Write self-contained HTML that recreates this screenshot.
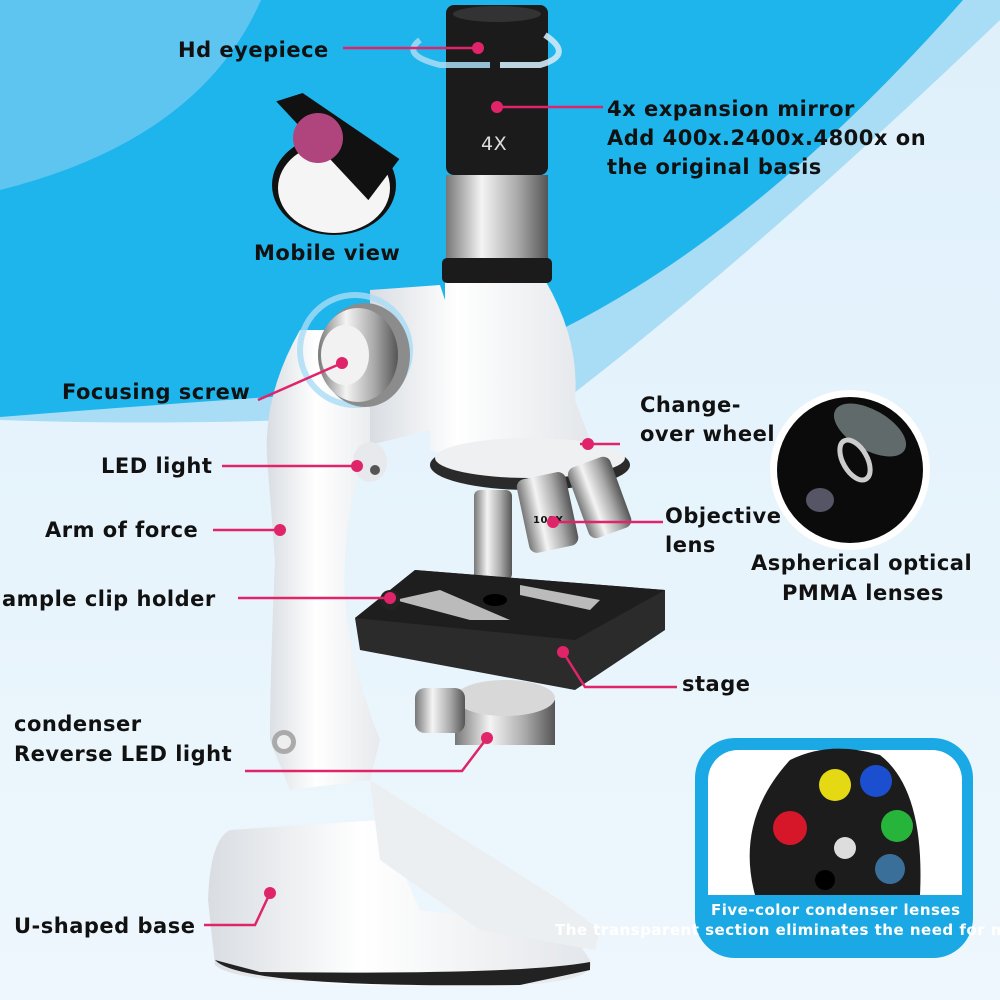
<!DOCTYPE html>
<html><head><meta charset="utf-8"><style>
html,body{margin:0;padding:0;width:1000px;height:1000px;overflow:hidden;background:#e6f3fc}
svg{display:block}
text{font-family:"DejaVu Sans","Liberation Sans",sans-serif;font-weight:bold;fill:#111;font-size:21px;letter-spacing:0.5px}
</style></head><body>
<svg width="1000" height="1000" viewBox="0 0 1000 1000" xmlns="http://www.w3.org/2000/svg">
<defs>
<linearGradient id="bg" x1="0" y1="0" x2="0" y2="1"><stop offset="0" stop-color="#dff0fb"/><stop offset="1" stop-color="#eef7fd"/></linearGradient>
<linearGradient id="metal" x1="0" y1="0" x2="1" y2="0"><stop offset="0" stop-color="#777"/><stop offset="0.35" stop-color="#f4f4f4"/><stop offset="0.7" stop-color="#aaa"/><stop offset="1" stop-color="#555"/></linearGradient>
<linearGradient id="white" x1="0" y1="0" x2="1" y2="0"><stop offset="0" stop-color="#d9dde2"/><stop offset="0.4" stop-color="#ffffff"/><stop offset="1" stop-color="#e3e6ea"/></linearGradient>
</defs>
<rect width="1000" height="1000" fill="url(#bg)"/>
<!-- light outer band -->
<path d="M0,0 L1000,0 L1000,20 Q760,250 565,400 Q300,430 0,420 Z" fill="#a9dcf5"/>
<!-- bright blue -->
<path d="M0,0 L963,0 Q760,230 560,330 Q430,390 300,395 Q150,405 0,417 Z" fill="#1db5ec"/>
<!-- lighter top-left -->
<path d="M0,0 L261,0 Q200,140 0,190 Z" fill="#5ec4f0"/>

<!-- base -->
<path d="M230,830 Q210,840 208,900 L215,965 Q240,990 520,985 Q600,980 590,960 L570,930 L420,910 L380,820 Z" fill="url(#white)"/>
<path d="M215,960 Q240,988 520,985 L590,970 L590,962 Q520,975 260,972 Z" fill="#222"/>
<path d="M370,780 L560,900 L600,930 L595,950 L480,930 L380,860 Z" fill="#eceff2"/>
<!-- arm -->
<path d="M300,330 Q260,400 268,470 L275,560 Q270,680 270,740 L290,790 L370,780 L380,740 Q340,640 345,560 Q350,470 380,430 L390,330 Z" fill="url(#white)"/>
<circle cx="284" cy="742" r="12" fill="#aaa"/><circle cx="284" cy="742" r="7" fill="#eee"/>
<!-- head -->
<path d="M370,290 L440,285 L445,300 L445,280 L545,280 Q580,340 575,400 L590,440 L470,465 L430,450 L430,430 L370,445 Z" fill="url(#white)"/>
<ellipse cx="355" cy="350" rx="55" ry="55" fill="none" stroke="#a9dcf5" stroke-width="6" opacity="0.8"/>
<ellipse cx="365" cy="355" rx="45" ry="52" fill="#8c8c8c"/>
<ellipse cx="358" cy="355" rx="40" ry="47" fill="url(#metal)"/>
<ellipse cx="345" cy="355" rx="24" ry="30" fill="#f2f2f2"/>
<ellipse cx="370" cy="462" rx="17" ry="20" fill="#e7e9ec"/><circle cx="375" cy="470" r="5" fill="#555"/>
<!-- eyepiece -->
<rect x="446" y="5" width="102" height="170" rx="8" fill="#1b1b1b"/>
<ellipse cx="497" cy="14" rx="44" ry="8" fill="#333"/>
<rect x="446" y="175" width="102" height="85" fill="url(#metal)"/>
<rect x="442" y="258" width="110" height="25" rx="5" fill="#1b1b1b"/>
<text x="481" y="150" style="fill:#ddd;font-weight:normal;font-size:19px">4X</text>
<path d="M420,40 Q400,55 440,65 L490,65" fill="none" stroke="#a9dcf5" stroke-width="6" opacity="0.85"/>
<path d="M545,35 Q575,55 540,65 L500,65" fill="none" stroke="#cfe9f7" stroke-width="6" opacity="0.9"/>
<!-- turret -->
<ellipse cx="530" cy="465" rx="100" ry="25" fill="#2a2a2a"/>
<ellipse cx="530" cy="458" rx="95" ry="20" fill="#eef0f2"/>
<!-- objectives -->
<rect x="474" y="490" width="38" height="90" rx="6" fill="url(#metal)"/>
<rect x="522" y="475" width="50" height="75" rx="8" fill="url(#metal)" transform="rotate(-12 547 510)"/>
<rect x="578" y="460" width="45" height="75" rx="8" fill="url(#metal)" transform="rotate(-20 600 500)"/>
<text x="533" y="523" style="font-size:10px">100X</text>
<!-- stage -->
<path d="M355,618 L415,570 L665,590 L665,630 L575,690 L360,650 Z" fill="#2b2b2b"/>
<path d="M355,618 L415,570 L665,590 L575,640 Z" fill="#1e1e1e"/>
<ellipse cx="495" cy="600" rx="12" ry="6" fill="#000"/>
<path d="M395,600 L470,620 L510,620 L440,590 Z" fill="#bbb"/>
<path d="M520,585 L600,600 L590,610 L520,595 Z" fill="#bbb"/>
<circle cx="390" cy="600" r="10" fill="#222"/>
<!-- condenser -->
<ellipse cx="505" cy="710" rx="50" ry="20" fill="url(#metal)"/>
<rect x="455" y="700" width="100" height="45" fill="url(#metal)"/>
<ellipse cx="505" cy="698" rx="50" ry="18" fill="#d8d8d8"/>
<rect x="415" y="688" width="50" height="45" rx="10" fill="url(#metal)"/>

<!-- phone circle -->
<ellipse cx="334" cy="185" rx="62" ry="50" fill="#111"/>
<ellipse cx="334" cy="188" rx="56" ry="45" fill="#f5f5f5"/>
<path d="M270,110 L295,98 L400,150 L375,195 Z" fill="#111" transform="rotate(8 335 150)"/>
<circle cx="318" cy="138" r="25" fill="#b0457e"/>
<!-- aspherical circle -->
<circle cx="850" cy="470" r="80" fill="#fff"/>
<circle cx="850" cy="470" r="73" fill="#0b0b0b"/>
<ellipse cx="870" cy="430" rx="40" ry="20" fill="#9aa" opacity="0.6" transform="rotate(30 870 430)"/>
<ellipse cx="855" cy="460" rx="12" ry="22" fill="none" stroke="#ccc" stroke-width="5" transform="rotate(-30 855 460)"/>
<ellipse cx="820" cy="500" rx="14" ry="12" fill="#556"/>

<!-- inset -->
<rect x="695" y="738" width="278" height="220" rx="40" fill="#1aa9e4"/>
<rect x="708" y="750" width="254" height="145" rx="30" fill="#fff"/>
<rect x="708" y="860" width="254" height="35" fill="#fff"/>
<path d="M755,895 Q735,820 790,760 Q830,740 880,755 Q925,790 920,895 Z" fill="#1c1c1c"/>
<circle cx="790" cy="828" r="17" fill="#d6172a"/>
<circle cx="835" cy="785" r="16" fill="#e5d913"/>
<circle cx="876" cy="781" r="16" fill="#1c4fd0"/>
<circle cx="897" cy="826" r="16" fill="#26b53a"/>
<circle cx="890" cy="869" r="15" fill="#3a6f9a"/>
<circle cx="845" cy="848" r="11" fill="#ddd"/>
<circle cx="825" cy="880" r="10" fill="#000"/>
<text x="711" y="915" style="fill:#fff;font-size:15px">Five-color condenser lenses</text>
<text x="555" y="935" style="fill:#fff;font-size:15px">The transparent section eliminates the need for mar</text>

<!-- connectors -->
<g stroke="#e0246a" stroke-width="2.5" fill="none">
<path d="M343,48 L478,48"/>
<path d="M497,107 L603,107"/>
<path d="M258,400 L342,363"/>
<path d="M222,466 L357,466"/>
<path d="M213,530 L280,530"/>
<path d="M238,598 L390,598"/>
<path d="M563,652 L585,687 L677,687"/>
<path d="M620,444 L580,444"/>
<path d="M663,522 L553,522"/>
<path d="M245,771 L462,771 L487,738"/>
<path d="M204,925 L255,925 L270,893"/>
</g>
<g fill="#e0246a">
<circle cx="478" cy="48" r="6"/><circle cx="497" cy="107" r="6"/><circle cx="342" cy="363" r="6"/>
<circle cx="357" cy="466" r="6"/><circle cx="280" cy="530" r="6"/><circle cx="390" cy="598" r="6"/>
<circle cx="563" cy="652" r="6"/><circle cx="588" cy="444" r="6"/><circle cx="553" cy="522" r="6"/>
<circle cx="487" cy="738" r="6"/><circle cx="270" cy="893" r="6"/>
</g>

<text x="178" y="57">Hd eyepiece</text>
<text x="607" y="116">4x expansion mirror</text>
<text x="607" y="145">Add 400x.2400x.4800x on</text>
<text x="607" y="174">the original basis</text>
<text x="254" y="260">Mobile view</text>
<text x="62" y="399">Focusing screw</text>
<text x="640" y="412">Change-</text>
<text x="640" y="441">over wheel</text>
<text x="101" y="473">LED light</text>
<text x="45" y="537">Arm of force</text>
<text x="665" y="523">Objective</text>
<text x="665" y="552">lens</text>
<text x="751" y="570">Aspherical optical</text>
<text x="782" y="600">PMMA lenses</text>
<text x="2" y="606">ample clip holder</text>
<text x="682" y="691">stage</text>
<text x="14" y="731">condenser</text>
<text x="14" y="761">Reverse LED light</text>
<text x="14" y="933">U-shaped base</text>
</svg>
</body></html>
